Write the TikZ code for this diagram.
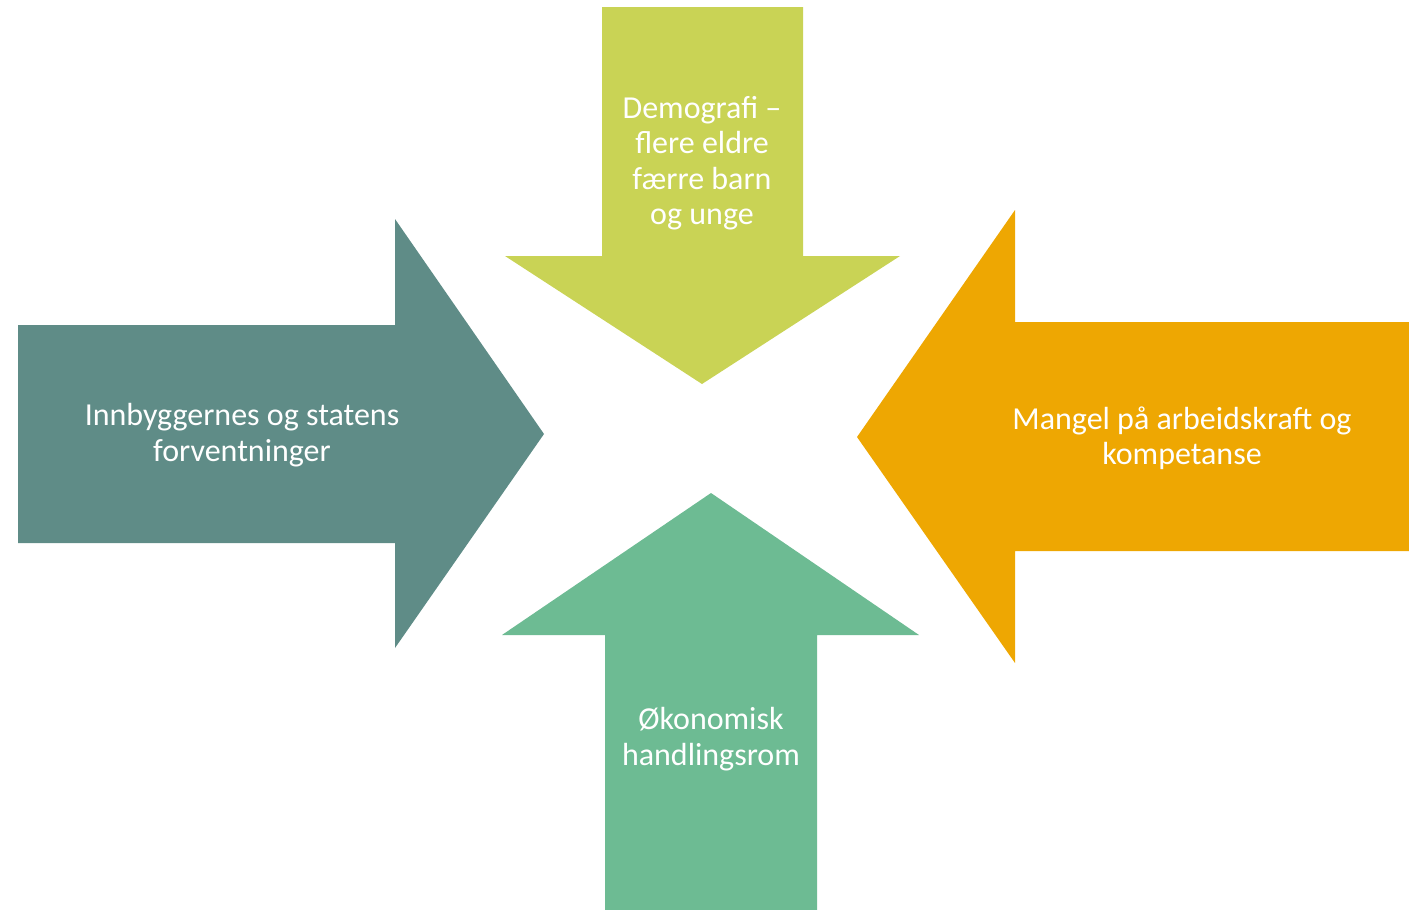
\documentclass[tikz,border=0pt]{standalone}
\usepackage{fontspec}
\setmainfont{Carlito}
\usepackage{xcolor}
\definecolor{tealarrow}{HTML}{5F8C87}
\definecolor{limearrow}{HTML}{C9D355}
\definecolor{orangearrow}{HTML}{EEA702}
\definecolor{greenarrow}{HTML}{6DBB93}
\tikzset{
  arrowtext/.style={text=white, align=center, inner sep=0pt,
    font=\fontsize{32}{35.5}\selectfont}
}
\begin{document}
\begin{tikzpicture}[x=1pt,y=-1pt]
      \useasboundingbox (0,0) rectangle (1409,910);
      % Top arrow
      \fill[limearrow] (602,7) -- (803,7) -- (803,256) -- (900,256) -- (702,384)
        -- (505,256) -- (602,256) -- cycle;
      % Left arrow
      \fill[tealarrow] (18,325) -- (395,325) -- (395,219) -- (544,434) -- (395,648)
        -- (395,543) -- (18,543) -- cycle;
      % Right arrow
      \fill[orangearrow] (1409,322) -- (1015,322) -- (1015,210) -- (857,437) -- (1015,663)
        -- (1015,551) -- (1409,551) -- cycle;
      % Bottom arrow
      \fill[greenarrow] (605,910) -- (605,635) -- (502,635) -- (711,493) -- (919,635)
        -- (817,635) -- (817,910) -- cycle;
      % Labels
      \node[arrowtext] (demografi) at (702,163) {Demografi --\\flere eldre\\færre barn\\og unge};
      \node[arrowtext] (forventninger) at (242,435) {Innbyggernes og statens\\forventninger};
      \node[arrowtext] (arbeidskraft) at (1182,438) {Mangel på arbeidskraft og\\kompetanse};
      \node[arrowtext] (handlingsrom) at (711,739) {Økonomisk\\handlingsrom};
    \end{tikzpicture}
\end{document}
